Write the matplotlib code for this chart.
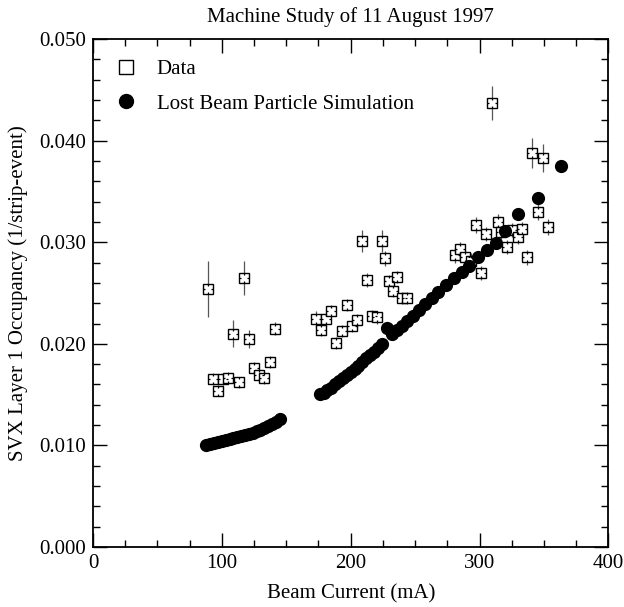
import matplotlib
matplotlib.use("Agg")
import matplotlib.pyplot as plt
from matplotlib.path import Path
from matplotlib.ticker import MultipleLocator, FormatStrFormatter

plt.rcParams['font.family'] = ['Liberation Serif', 'DejaVu Serif']

# measured occupancy (open squares)
data_x = [89.4, 93, 97.1, 101, 104.8, 108.9, 113.3, 117.1, 121, 125.1, 129, 133.1, 137, 141,
          172.9, 177, 180.9, 185, 188.8, 192.9, 196.8, 200.9, 204.8, 208.6, 212.7, 216.6, 220.6,
          224.5, 226.8, 230, 233, 236, 240, 244,
          281, 285, 289, 293, 297, 301, 305, 310, 314, 317, 321, 325, 330, 333, 337, 341, 345, 349, 353]
data_y = [0.0254, 0.0165, 0.0154, 0.0165, 0.0166, 0.0210, 0.0162, 0.0265, 0.0205, 0.0176, 0.0169, 0.0166, 0.0182, 0.0215,
          0.0224, 0.0214, 0.0224, 0.0232, 0.0201, 0.0213, 0.0238, 0.0218, 0.0223, 0.0301, 0.0263, 0.0227, 0.0226,
          0.0301, 0.0284, 0.0262, 0.0252, 0.0266, 0.0245, 0.0245,
          0.0287, 0.0293, 0.0285, 0.0282, 0.0317, 0.0270, 0.0308, 0.0437, 0.0320, 0.0310, 0.0295, 0.0312, 0.0305,
          0.0313, 0.0285, 0.0388, 0.0330, 0.0383, 0.0315]
data_err = [0.0028, 0.0006, 0.0005, 0.0006, 0.0006, 0.0013, 0.0005, 0.0017, 0.0009, 0.0006, 0.0006, 0.0006, 0.0006, 0.0006,
            0.0008, 0.0006, 0.0006, 0.0006, 0.0006, 0.0006, 0.0006, 0.0006, 0.0006, 0.0011, 0.0007, 0.0006, 0.0006,
            0.0011, 0.0007, 0.0006, 0.0006, 0.0006, 0.0006, 0.0006,
            0.0007, 0.0007, 0.0007, 0.0007, 0.0008, 0.0007, 0.0007, 0.0017, 0.0008, 0.0007, 0.0007, 0.0007, 0.0007,
            0.0007, 0.0007, 0.0015, 0.0008, 0.0014, 0.0008]

# lost beam particle simulation (filled circles)
sim_x = [88, 91, 94, 97, 100, 103, 106, 109, 112, 115, 118, 121, 124, 127, 130, 133, 136, 139, 142, 145,
         176, 179, 182, 185, 188, 191, 194, 197, 200, 203, 206, 209, 212, 215, 218, 221, 224,
         228, 232, 236, 240, 244, 248, 253, 258, 263, 268, 274, 280, 286, 292, 299, 306, 313, 320,
         330, 345, 363]
sim_y = [0.0100, 0.0101, 0.0102, 0.0103, 0.0104, 0.0105, 0.0106, 0.0107, 0.0108, 0.0109, 0.0110, 0.0111,
         0.0112, 0.0114, 0.0115, 0.0117, 0.0119, 0.0121, 0.0123, 0.0126,
         0.0151, 0.0152, 0.0155, 0.0157, 0.0160, 0.0163, 0.0166, 0.0169, 0.0172, 0.0175, 0.0178, 0.0182,
         0.0186, 0.0189, 0.0192, 0.0196, 0.0200,
         0.0216, 0.0210, 0.0214, 0.0218, 0.0222, 0.0227, 0.0233, 0.0239, 0.0245, 0.0251, 0.0258, 0.0265,
         0.0271, 0.0277, 0.0285, 0.0292, 0.0299, 0.0311, 0.0328, 0.0344, 0.0375]

# little inward ticks drawn inside each open square
tick_mark = Path([(-1, 0), (-0.55, 0), (1, 0), (0.55, 0), (0, 1), (0, 0.65), (0, -1), (0, -0.65)],
                 [Path.MOVETO, Path.LINETO] * 4)

fig = plt.figure(figsize=(6.24, 6.07), dpi=100)
ax = fig.add_axes([0.149, 0.0988, 0.826, 0.8369])

ax.errorbar(data_x, data_y, yerr=data_err, fmt='none', ecolor='#555555', elinewidth=0.9, zorder=2)
ax.plot(data_x, data_y, 's', ms=7.5, mfc='white', mec='black', mew=1.0, ls='none', zorder=3,
        label='Data')
ax.plot(data_x, data_y, marker=tick_mark, ms=7.5, mec='black', mew=0.9, ls='none', zorder=3.5)
ax.plot(sim_x, sim_y, 'o', ms=8.5, color='black', ls='none', zorder=4,
        label='Lost Beam Particle Simulation')

ax.set_xlim(0, 400)
ax.set_ylim(0, 0.05)
ax.xaxis.set_major_locator(MultipleLocator(100))
ax.xaxis.set_minor_locator(MultipleLocator(25))
ax.yaxis.set_major_locator(MultipleLocator(0.01))
ax.yaxis.set_minor_locator(MultipleLocator(0.002))
ax.yaxis.set_major_formatter(FormatStrFormatter('%.3f'))
ax.tick_params(which='both', direction='in', top=True, right=True, labelsize=15, width=1.0)
ax.tick_params(which='major', length=10, pad=5)
ax.tick_params(which='minor', length=5)
for s in ax.spines.values():
    s.set_linewidth(1.3)

ax.set_xlabel('Beam Current (mA)', fontsize=15, labelpad=8)
ax.set_ylabel('SVX Layer 1 Occupancy (1/strip-event)', fontsize=15, labelpad=8)
ax.set_title('Machine Study of 11 August 1997', fontsize=15, pad=12)
leg = ax.legend(loc='upper left', frameon=False, fontsize=15, handlelength=1.2, handletextpad=0.85,
                borderaxespad=0.6, labelspacing=0.7)
leg.legend_handles[0].set_markersize(10)
leg.legend_handles[1].set_markersize(10)

fig.savefig('out.png', dpi=100)
